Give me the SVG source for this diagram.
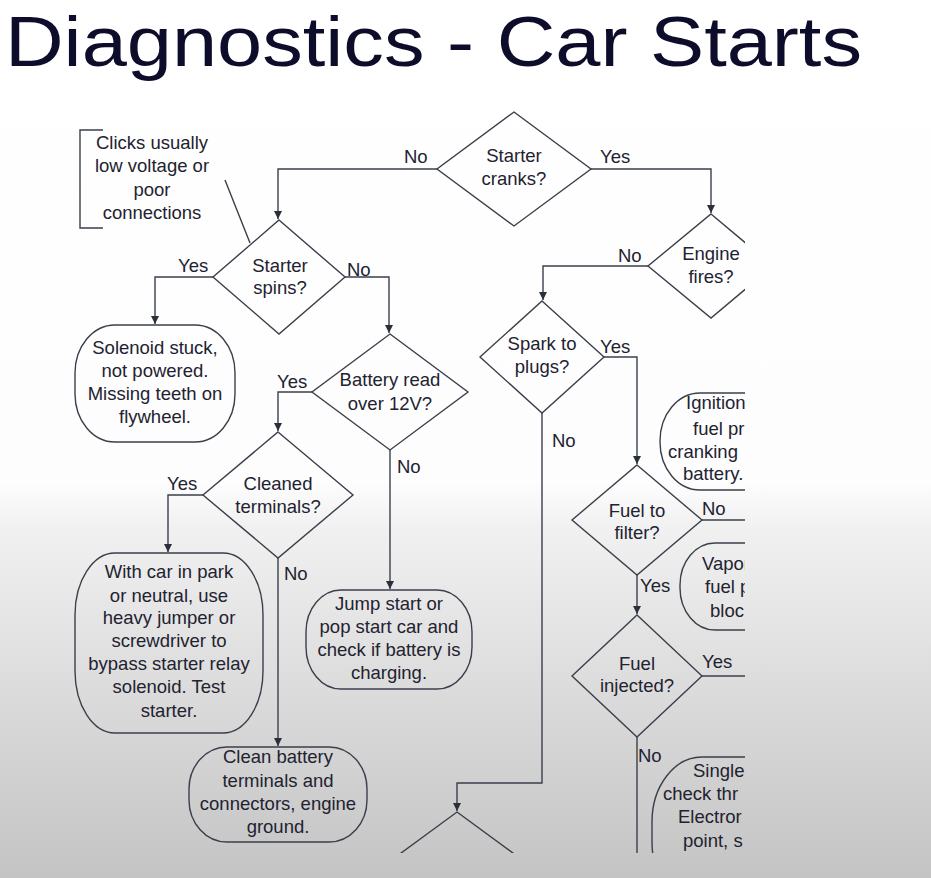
<svg xmlns="http://www.w3.org/2000/svg" width="931" height="878" viewBox="0 0 931 878">
<defs>
<linearGradient id="bg" x1="0" y1="0" x2="0" y2="878" gradientUnits="userSpaceOnUse">
<stop offset="0" stop-color="#ffffff"/>
<stop offset="0.55" stop-color="#fdfdfd"/>
<stop offset="0.6" stop-color="#f1f1f1"/>
<stop offset="0.8" stop-color="#dadada"/>
<stop offset="1" stop-color="#c4c4c4"/>
</linearGradient>
<clipPath id="clip"><rect x="0" y="100" width="745" height="753"/></clipPath>
<marker id="arr" viewBox="0 0 8 8" refX="8" refY="4" markerWidth="8" markerHeight="8" markerUnits="userSpaceOnUse" orient="auto">
<path d="M0,0 L8,4 L0,8 z" fill="#2a2f3a"/>
</marker>
<style>
.t{font-family:"Liberation Sans",Arial,sans-serif;font-size:18.5px;fill:#222230;text-anchor:middle}
.s{text-anchor:start}
.sh{fill:none;stroke:#3a3f4a;stroke-width:1.4}
.c{fill:none;stroke:#3a3f4a;stroke-width:1.4}
.title{font-family:"Liberation Sans",Arial,sans-serif;font-size:71px;fill:#0d0d2b}
</style>
</defs>
<rect x="0" y="0" width="931" height="878" fill="url(#bg)"/>
<text class="title" x="5" y="66" textLength="857" lengthAdjust="spacingAndGlyphs">Diagnostics - Car Starts</text>
<g clip-path="url(#clip)">
<g id="note">
<path class="sh" d="M103,130 H80 V228 H103"/>
<path class="sh" d="M225,180 L250,243"/>
<text class="t" x="152" y="149">Clicks usually</text>
<text class="t" x="152" y="172">low voltage or</text>
<text class="t" x="152" y="196">poor</text>
<text class="t" x="152" y="219">connections</text>
</g>
<g id="connectors">
<path class="c" d="M437,169 H278 V219" marker-end="url(#arr)"/>
<path class="c" d="M591,169 H711 V213" marker-end="url(#arr)"/>
<path class="c" d="M213,277 H155 V324" marker-end="url(#arr)"/>
<path class="c" d="M345,277 H389 V333" marker-end="url(#arr)"/>
<path class="c" d="M648,266 H543 V300" marker-end="url(#arr)"/>
<path class="c" d="M312,392 H278 V431" marker-end="url(#arr)"/>
<path class="c" d="M390,450 V589" marker-end="url(#arr)"/>
<path class="c" d="M203,495 H168 V552" marker-end="url(#arr)"/>
<path class="c" d="M278,558 V746" marker-end="url(#arr)"/>
<path class="c" d="M604,357 H637 V464" marker-end="url(#arr)"/>
<path class="c" d="M542,413 V783 H457 V811" marker-end="url(#arr)"/>
<path class="c" d="M702,520 H745"/>
<path class="c" d="M637,575 V614" marker-end="url(#arr)"/>
<path class="c" d="M702,676 H745"/>
<path class="c" d="M637,737 V853"/>
<text class="t s" x="404" y="163">No</text>
<text class="t s" x="600" y="163">Yes</text>
<text class="t s" x="178" y="272">Yes</text>
<text class="t s" x="347" y="276">No</text>
<text class="t s" x="618" y="262">No</text>
<text class="t s" x="277" y="388">Yes</text>
<text class="t s" x="397" y="473">No</text>
<text class="t s" x="167" y="490">Yes</text>
<text class="t s" x="284" y="580">No</text>
<text class="t s" x="600" y="353">Yes</text>
<text class="t s" x="552" y="447">No</text>
<text class="t s" x="702" y="515">No</text>
<text class="t s" x="640" y="592">Yes</text>
<text class="t s" x="702" y="668">Yes</text>
<text class="t s" x="638" y="762">No</text>
</g>
<g id="starter-cranks">
<path class="sh" d="M514,112 L591,169 L514,226 L437,169 Z"/>
<text class="t" x="514" y="162">Starter</text>
<text class="t" x="514" y="185">cranks?</text>
</g>
<g id="starter-spins">
<path class="sh" d="M279,220 L345,277 L279,334 L213,277 Z"/>
<text class="t" x="280" y="272">Starter</text>
<text class="t" x="280" y="294">spins?</text>
</g>
<g id="engine-fires">
<path class="sh" d="M711,214 L773,266 L711,318 L648,266 Z"/>
<text class="t" x="711" y="260">Engine</text>
<text class="t" x="711" y="283">fires?</text>
</g>
<g id="solenoid">
<rect class="sh" x="75" y="325" width="160" height="117" rx="40" ry="48"/>
<text class="t" x="155" y="354">Solenoid stuck,</text>
<text class="t" x="155" y="377">not powered.</text>
<text class="t" x="155" y="400">Missing teeth on</text>
<text class="t" x="155" y="423">flywheel.</text>
</g>
<g id="battery-read">
<path class="sh" d="M390,334 L468,392 L390,450 L312,392 Z"/>
<text class="t" x="390" y="386">Battery read</text>
<text class="t" x="390" y="410">over 12V?</text>
</g>
<g id="cleaned-terminals">
<path class="sh" d="M278,432 L353,495 L278,558 L203,495 Z"/>
<text class="t" x="278" y="490">Cleaned</text>
<text class="t" x="278" y="513">terminals?</text>
</g>
<g id="with-car">
<rect class="sh" x="75" y="553" width="188" height="180" rx="40" ry="62"/>
<text class="t" x="169" y="578">With car in park</text>
<text class="t" x="169" y="602">or neutral, use</text>
<text class="t" x="169" y="624">heavy jumper or</text>
<text class="t" x="169" y="647">screwdriver to</text>
<text class="t" x="169" y="670">bypass starter relay</text>
<text class="t" x="169" y="693">solenoid. Test</text>
<text class="t" x="169" y="717">starter.</text>
</g>
<g id="jump-start">
<rect class="sh" x="306" y="590" width="166" height="99" rx="35" ry="42"/>
<text class="t" x="389" y="610">Jump start or</text>
<text class="t" x="389" y="633">pop start car and</text>
<text class="t" x="389" y="656">check if battery is</text>
<text class="t" x="389" y="679">charging.</text>
</g>
<g id="clean-battery">
<rect class="sh" x="189" y="747" width="178" height="95" rx="38" ry="42"/>
<text class="t" x="278" y="763">Clean battery</text>
<text class="t" x="278" y="787">terminals and</text>
<text class="t" x="278" y="810">connectors, engine</text>
<text class="t" x="278" y="833">ground.</text>
</g>
<g id="spark-to-plugs">
<path class="sh" d="M542,301 L604,357 L542,413 L480,357 Z"/>
<text class="t" x="542" y="350">Spark to</text>
<text class="t" x="542" y="373">plugs?</text>
</g>
<g id="ignition">
<rect class="sh" x="660" y="393" width="200" height="97" rx="40" ry="48"/>
<text class="t s" x="686" y="409">Ignition</text>
<text class="t s" x="693" y="435">fuel pr</text>
<text class="t s" x="668" y="458">cranking</text>
<text class="t s" x="683" y="480">battery.</text>
</g>
<g id="fuel-to-filter">
<path class="sh" d="M637,465 L702,520 L637,575 L572,520 Z"/>
<text class="t" x="637" y="517">Fuel to</text>
<text class="t" x="637" y="539">filter?</text>
</g>
<g id="vapor">
<rect class="sh" x="680" y="543" width="200" height="87" rx="35" ry="42"/>
<text class="t s" x="702" y="570">Vapor</text>
<text class="t s" x="705" y="593">fuel p</text>
<text class="t s" x="710" y="617">bloc</text>
</g>
<g id="fuel-injected">
<path class="sh" d="M637,615 L702,676 L637,737 L572,676 Z"/>
<text class="t" x="637" y="670">Fuel</text>
<text class="t" x="637" y="692">injected?</text>
</g>
<g id="single">
<rect class="sh" x="652" y="757" width="200" height="150" rx="50" ry="65"/>
<text class="t s" x="693" y="777">Single</text>
<text class="t s" x="663" y="800">check thr</text>
<text class="t s" x="678" y="823">Electror</text>
<text class="t s" x="683" y="847">point, s</text>
</g>
<g id="spark-bottom">
<path class="sh" d="M457,812 L532,867 L457,922 L382,867 Z"/>
</g>
</g>
</svg>
